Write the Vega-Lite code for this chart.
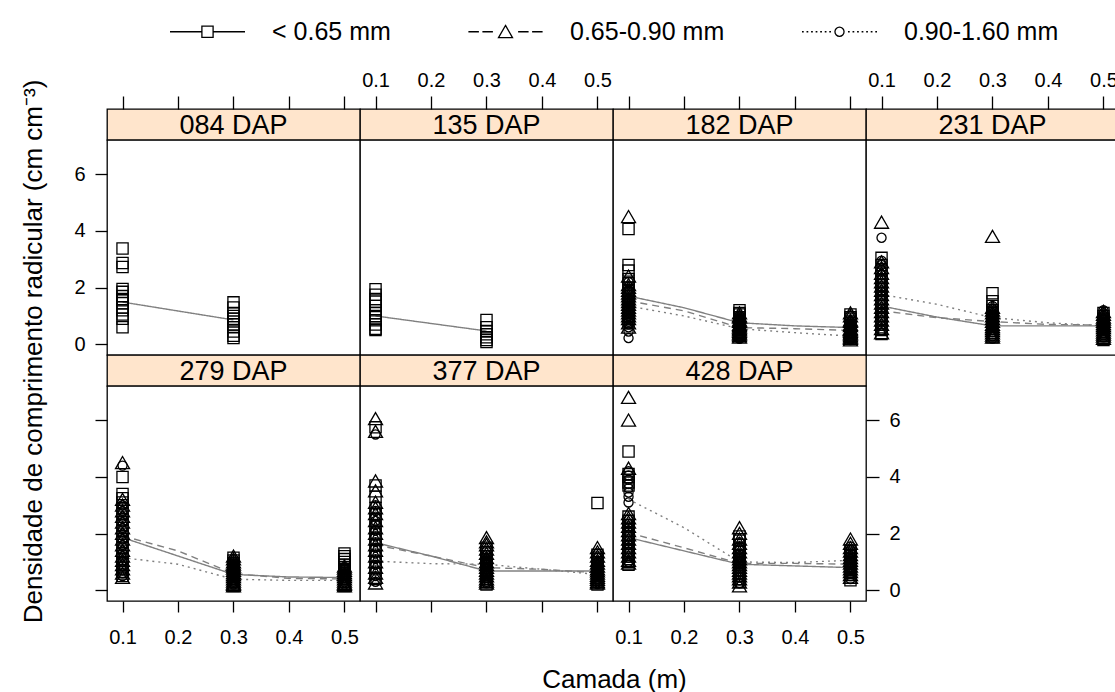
{
"$schema": "https://vega.github.io/schema/vega-lite/v6.json",
"padding": {"left": 19, "top": 18, "right": 0, "bottom": 0},
"columns": 4, "spacing": 0, "bounds": "flush", "align": "each",
"resolve": {"scale": {"shape": "independent"}, "legend": {"shape": "independent"}},
"datasets": {
"lns": [
{"p":"084 DAP","c":"< 0.65 mm","d":0.1,"v":1.49},{"p":"084 DAP","c":"< 0.65 mm","d":0.3,"v":0.86},
{"p":"135 DAP","c":"< 0.65 mm","d":0.1,"v":1.0},{"p":"135 DAP","c":"< 0.65 mm","d":0.3,"v":0.47},
{"p":"182 DAP","c":"< 0.65 mm","d":0.1,"v":1.70},{"p":"182 DAP","c":"< 0.65 mm","d":0.2,"v":1.29},{"p":"182 DAP","c":"< 0.65 mm","d":0.3,"v":0.76},{"p":"182 DAP","c":"< 0.65 mm","d":0.4,"v":0.65},{"p":"182 DAP","c":"< 0.65 mm","d":0.5,"v":0.59},
{"p":"182 DAP","c":"0.65-0.90 mm","d":0.1,"v":1.53},{"p":"182 DAP","c":"0.65-0.90 mm","d":0.2,"v":1.18},{"p":"182 DAP","c":"0.65-0.90 mm","d":0.3,"v":0.59},{"p":"182 DAP","c":"0.65-0.90 mm","d":0.4,"v":0.55},{"p":"182 DAP","c":"0.65-0.90 mm","d":0.5,"v":0.49},
{"p":"182 DAP","c":"0.90-1.60 mm","d":0.1,"v":1.35},{"p":"182 DAP","c":"0.90-1.60 mm","d":0.2,"v":1.0},{"p":"182 DAP","c":"0.90-1.60 mm","d":0.3,"v":0.55},{"p":"182 DAP","c":"0.90-1.60 mm","d":0.4,"v":0.41},{"p":"182 DAP","c":"0.90-1.60 mm","d":0.5,"v":0.29},
{"p":"231 DAP","c":"< 0.65 mm","d":0.1,"v":1.35},{"p":"231 DAP","c":"< 0.65 mm","d":0.2,"v":0.96},{"p":"231 DAP","c":"< 0.65 mm","d":0.3,"v":0.65},{"p":"231 DAP","c":"< 0.65 mm","d":0.4,"v":0.65},{"p":"231 DAP","c":"< 0.65 mm","d":0.5,"v":0.65},
{"p":"231 DAP","c":"0.65-0.90 mm","d":0.1,"v":1.18},{"p":"231 DAP","c":"0.65-0.90 mm","d":0.2,"v":0.94},{"p":"231 DAP","c":"0.65-0.90 mm","d":0.3,"v":0.80},{"p":"231 DAP","c":"0.65-0.90 mm","d":0.4,"v":0.70},{"p":"231 DAP","c":"0.65-0.90 mm","d":0.5,"v":0.68},
{"p":"231 DAP","c":"0.90-1.60 mm","d":0.1,"v":1.76},{"p":"231 DAP","c":"0.90-1.60 mm","d":0.2,"v":1.41},{"p":"231 DAP","c":"0.90-1.60 mm","d":0.3,"v":0.94},{"p":"231 DAP","c":"0.90-1.60 mm","d":0.4,"v":0.76},{"p":"231 DAP","c":"0.90-1.60 mm","d":0.5,"v":0.65},
{"p":"279 DAP","c":"< 0.65 mm","d":0.1,"v":1.86},{"p":"279 DAP","c":"< 0.65 mm","d":0.2,"v":1.21},{"p":"279 DAP","c":"< 0.65 mm","d":0.3,"v":0.56},{"p":"279 DAP","c":"< 0.65 mm","d":0.4,"v":0.47},{"p":"279 DAP","c":"< 0.65 mm","d":0.5,"v":0.45},
{"p":"279 DAP","c":"0.65-0.90 mm","d":0.1,"v":1.92},{"p":"279 DAP","c":"0.65-0.90 mm","d":0.2,"v":1.39},{"p":"279 DAP","c":"0.65-0.90 mm","d":0.3,"v":0.59},{"p":"279 DAP","c":"0.65-0.90 mm","d":0.4,"v":0.42},{"p":"279 DAP","c":"0.65-0.90 mm","d":0.5,"v":0.40},
{"p":"279 DAP","c":"0.90-1.60 mm","d":0.1,"v":1.15},{"p":"279 DAP","c":"0.90-1.60 mm","d":0.2,"v":0.92},{"p":"279 DAP","c":"0.90-1.60 mm","d":0.3,"v":0.39},{"p":"279 DAP","c":"0.90-1.60 mm","d":0.4,"v":0.35},{"p":"279 DAP","c":"0.90-1.60 mm","d":0.5,"v":0.35},
{"p":"377 DAP","c":"< 0.65 mm","d":0.1,"v":1.68},{"p":"377 DAP","c":"< 0.65 mm","d":0.2,"v":1.21},{"p":"377 DAP","c":"< 0.65 mm","d":0.3,"v":0.68},{"p":"377 DAP","c":"< 0.65 mm","d":0.4,"v":0.68},{"p":"377 DAP","c":"< 0.65 mm","d":0.5,"v":0.68},
{"p":"377 DAP","c":"0.65-0.90 mm","d":0.1,"v":1.60},{"p":"377 DAP","c":"0.65-0.90 mm","d":0.2,"v":1.21},{"p":"377 DAP","c":"0.65-0.90 mm","d":0.3,"v":0.80},{"p":"377 DAP","c":"0.65-0.90 mm","d":0.4,"v":0.74},{"p":"377 DAP","c":"0.65-0.90 mm","d":0.5,"v":0.62},
{"p":"377 DAP","c":"0.90-1.60 mm","d":0.1,"v":1.03},{"p":"377 DAP","c":"0.90-1.60 mm","d":0.2,"v":0.94},{"p":"377 DAP","c":"0.90-1.60 mm","d":0.3,"v":0.92},{"p":"377 DAP","c":"0.90-1.60 mm","d":0.4,"v":0.74},{"p":"377 DAP","c":"0.90-1.60 mm","d":0.5,"v":0.56},
{"p":"428 DAP","c":"< 0.65 mm","d":0.1,"v":1.86},{"p":"428 DAP","c":"< 0.65 mm","d":0.2,"v":1.39},{"p":"428 DAP","c":"< 0.65 mm","d":0.3,"v":0.92},{"p":"428 DAP","c":"< 0.65 mm","d":0.4,"v":0.86},{"p":"428 DAP","c":"< 0.65 mm","d":0.5,"v":0.80},
{"p":"428 DAP","c":"0.65-0.90 mm","d":0.1,"v":2.03},{"p":"428 DAP","c":"0.65-0.90 mm","d":0.2,"v":1.50},{"p":"428 DAP","c":"0.65-0.90 mm","d":0.3,"v":0.95},{"p":"428 DAP","c":"0.65-0.90 mm","d":0.4,"v":0.95},{"p":"428 DAP","c":"0.65-0.90 mm","d":0.5,"v":0.92},
{"p":"428 DAP","c":"0.90-1.60 mm","d":0.1,"v":3.21},{"p":"428 DAP","c":"0.90-1.60 mm","d":0.2,"v":2.21},{"p":"428 DAP","c":"0.90-1.60 mm","d":0.3,"v":1.0},{"p":"428 DAP","c":"0.90-1.60 mm","d":0.4,"v":0.98},{"p":"428 DAP","c":"0.90-1.60 mm","d":0.5,"v":1.06}
],
"pts": [
{"p":"084 DAP","c":"< 0.65 mm","d":0.1,"v":3.38},{"p":"084 DAP","c":"< 0.65 mm","d":0.1,"v":2.87},{"p":"084 DAP","c":"< 0.65 mm","d":0.1,"v":2.73},{"p":"084 DAP","c":"< 0.65 mm","d":0.1,"v":1.95},{"p":"084 DAP","c":"< 0.65 mm","d":0.1,"v":1.85},{"p":"084 DAP","c":"< 0.65 mm","d":0.1,"v":1.7},{"p":"084 DAP","c":"< 0.65 mm","d":0.1,"v":1.6},{"p":"084 DAP","c":"< 0.65 mm","d":0.1,"v":1.55},{"p":"084 DAP","c":"< 0.65 mm","d":0.1,"v":1.45},{"p":"084 DAP","c":"< 0.65 mm","d":0.1,"v":1.3},{"p":"084 DAP","c":"< 0.65 mm","d":0.1,"v":1.2},{"p":"084 DAP","c":"< 0.65 mm","d":0.1,"v":1.05},{"p":"084 DAP","c":"< 0.65 mm","d":0.1,"v":0.9},{"p":"084 DAP","c":"< 0.65 mm","d":0.1,"v":0.6},
{"p":"084 DAP","c":"< 0.65 mm","d":0.3,"v":1.48},{"p":"084 DAP","c":"< 0.65 mm","d":0.3,"v":1.3},{"p":"084 DAP","c":"< 0.65 mm","d":0.3,"v":1.1},{"p":"084 DAP","c":"< 0.65 mm","d":0.3,"v":1.0},{"p":"084 DAP","c":"< 0.65 mm","d":0.3,"v":0.9},{"p":"084 DAP","c":"< 0.65 mm","d":0.3,"v":0.8},{"p":"084 DAP","c":"< 0.65 mm","d":0.3,"v":0.7},{"p":"084 DAP","c":"< 0.65 mm","d":0.3,"v":0.6},{"p":"084 DAP","c":"< 0.65 mm","d":0.3,"v":0.45},{"p":"084 DAP","c":"< 0.65 mm","d":0.3,"v":0.3},{"p":"084 DAP","c":"< 0.65 mm","d":0.3,"v":0.22},
{"p":"135 DAP","c":"< 0.65 mm","d":0.1,"v":1.94},{"p":"135 DAP","c":"< 0.65 mm","d":0.1,"v":1.75},{"p":"135 DAP","c":"< 0.65 mm","d":0.1,"v":1.6},{"p":"135 DAP","c":"< 0.65 mm","d":0.1,"v":1.5},{"p":"135 DAP","c":"< 0.65 mm","d":0.1,"v":1.35},{"p":"135 DAP","c":"< 0.65 mm","d":0.1,"v":1.2},{"p":"135 DAP","c":"< 0.65 mm","d":0.1,"v":1.1},{"p":"135 DAP","c":"< 0.65 mm","d":0.1,"v":1.0},{"p":"135 DAP","c":"< 0.65 mm","d":0.1,"v":0.85},{"p":"135 DAP","c":"< 0.65 mm","d":0.1,"v":0.7},{"p":"135 DAP","c":"< 0.65 mm","d":0.1,"v":0.55},{"p":"135 DAP","c":"< 0.65 mm","d":0.1,"v":0.5},
{"p":"135 DAP","c":"< 0.65 mm","d":0.3,"v":0.86},{"p":"135 DAP","c":"< 0.65 mm","d":0.3,"v":0.6},{"p":"135 DAP","c":"< 0.65 mm","d":0.3,"v":0.45},{"p":"135 DAP","c":"< 0.65 mm","d":0.3,"v":0.35},{"p":"135 DAP","c":"< 0.65 mm","d":0.3,"v":0.25},{"p":"135 DAP","c":"< 0.65 mm","d":0.3,"v":0.15},{"p":"135 DAP","c":"< 0.65 mm","d":0.3,"v":0.08},
{"p":"182 DAP","c":"< 0.65 mm","d":0.1,"v":4.07},{"p":"182 DAP","c":"< 0.65 mm","d":0.1,"v":2.8},{"p":"182 DAP","c":"< 0.65 mm","d":0.1,"v":2.6},{"p":"182 DAP","c":"< 0.65 mm","d":0.1,"v":2.3},{"p":"182 DAP","c":"< 0.65 mm","d":0.1,"v":2.0},{"p":"182 DAP","c":"< 0.65 mm","d":0.1,"v":1.8},{"p":"182 DAP","c":"< 0.65 mm","d":0.1,"v":1.6},{"p":"182 DAP","c":"< 0.65 mm","d":0.1,"v":1.4},{"p":"182 DAP","c":"< 0.65 mm","d":0.1,"v":1.2},{"p":"182 DAP","c":"< 0.65 mm","d":0.1,"v":1.0},{"p":"182 DAP","c":"< 0.65 mm","d":0.1,"v":0.8},
{"p":"182 DAP","c":"< 0.65 mm","d":0.1,"v":2.15},{"p":"182 DAP","c":"< 0.65 mm","d":0.1,"v":1.9},{"p":"182 DAP","c":"< 0.65 mm","d":0.1,"v":1.7},{"p":"182 DAP","c":"< 0.65 mm","d":0.1,"v":1.5},{"p":"182 DAP","c":"< 0.65 mm","d":0.1,"v":1.3},{"p":"182 DAP","c":"< 0.65 mm","d":0.1,"v":1.1},{"p":"182 DAP","c":"< 0.65 mm","d":0.1,"v":0.9},
{"p":"182 DAP","c":"0.65-0.90 mm","d":0.1,"v":4.5},{"p":"182 DAP","c":"0.65-0.90 mm","d":0.1,"v":2.4},{"p":"182 DAP","c":"0.65-0.90 mm","d":0.1,"v":2.1},{"p":"182 DAP","c":"0.65-0.90 mm","d":0.1,"v":1.9},{"p":"182 DAP","c":"0.65-0.90 mm","d":0.1,"v":1.7},{"p":"182 DAP","c":"0.65-0.90 mm","d":0.1,"v":1.5},{"p":"182 DAP","c":"0.65-0.90 mm","d":0.1,"v":1.3},{"p":"182 DAP","c":"0.65-0.90 mm","d":0.1,"v":1.1},{"p":"182 DAP","c":"0.65-0.90 mm","d":0.1,"v":0.9},{"p":"182 DAP","c":"0.65-0.90 mm","d":0.1,"v":0.6},
{"p":"182 DAP","c":"0.65-0.90 mm","d":0.1,"v":2.0},{"p":"182 DAP","c":"0.65-0.90 mm","d":0.1,"v":1.8},{"p":"182 DAP","c":"0.65-0.90 mm","d":0.1,"v":1.6},{"p":"182 DAP","c":"0.65-0.90 mm","d":0.1,"v":1.4},{"p":"182 DAP","c":"0.65-0.90 mm","d":0.1,"v":1.2},{"p":"182 DAP","c":"0.65-0.90 mm","d":0.1,"v":1.0},{"p":"182 DAP","c":"0.65-0.90 mm","d":0.1,"v":0.75},
{"p":"182 DAP","c":"0.90-1.60 mm","d":0.1,"v":2.2},{"p":"182 DAP","c":"0.90-1.60 mm","d":0.1,"v":1.9},{"p":"182 DAP","c":"0.90-1.60 mm","d":0.1,"v":1.6},{"p":"182 DAP","c":"0.90-1.60 mm","d":0.1,"v":1.4},{"p":"182 DAP","c":"0.90-1.60 mm","d":0.1,"v":1.2},{"p":"182 DAP","c":"0.90-1.60 mm","d":0.1,"v":1.0},{"p":"182 DAP","c":"0.90-1.60 mm","d":0.1,"v":0.8},{"p":"182 DAP","c":"0.90-1.60 mm","d":0.1,"v":0.6},{"p":"182 DAP","c":"0.90-1.60 mm","d":0.1,"v":0.22},
{"p":"182 DAP","c":"0.90-1.60 mm","d":0.1,"v":1.75},{"p":"182 DAP","c":"0.90-1.60 mm","d":0.1,"v":1.5},{"p":"182 DAP","c":"0.90-1.60 mm","d":0.1,"v":1.3},{"p":"182 DAP","c":"0.90-1.60 mm","d":0.1,"v":1.1},{"p":"182 DAP","c":"0.90-1.60 mm","d":0.1,"v":0.9},{"p":"182 DAP","c":"0.90-1.60 mm","d":0.1,"v":0.7},{"p":"182 DAP","c":"0.90-1.60 mm","d":0.1,"v":0.45},
{"p":"182 DAP","c":"< 0.65 mm","d":0.3,"v":1.2},{"p":"182 DAP","c":"< 0.65 mm","d":0.3,"v":1.05},{"p":"182 DAP","c":"< 0.65 mm","d":0.3,"v":0.9},{"p":"182 DAP","c":"< 0.65 mm","d":0.3,"v":0.8},{"p":"182 DAP","c":"< 0.65 mm","d":0.3,"v":0.7},{"p":"182 DAP","c":"< 0.65 mm","d":0.3,"v":0.6},{"p":"182 DAP","c":"< 0.65 mm","d":0.3,"v":0.5},{"p":"182 DAP","c":"< 0.65 mm","d":0.3,"v":0.4},{"p":"182 DAP","c":"< 0.65 mm","d":0.3,"v":0.3},
{"p":"182 DAP","c":"< 0.65 mm","d":0.3,"v":1.1},{"p":"182 DAP","c":"< 0.65 mm","d":0.3,"v":0.95},{"p":"182 DAP","c":"< 0.65 mm","d":0.3,"v":0.75},{"p":"182 DAP","c":"< 0.65 mm","d":0.3,"v":0.65},{"p":"182 DAP","c":"< 0.65 mm","d":0.3,"v":0.55},{"p":"182 DAP","c":"< 0.65 mm","d":0.3,"v":0.45},{"p":"182 DAP","c":"< 0.65 mm","d":0.3,"v":0.35},
{"p":"182 DAP","c":"0.65-0.90 mm","d":0.3,"v":1.1},{"p":"182 DAP","c":"0.65-0.90 mm","d":0.3,"v":0.95},{"p":"182 DAP","c":"0.65-0.90 mm","d":0.3,"v":0.8},{"p":"182 DAP","c":"0.65-0.90 mm","d":0.3,"v":0.65},{"p":"182 DAP","c":"0.65-0.90 mm","d":0.3,"v":0.55},{"p":"182 DAP","c":"0.65-0.90 mm","d":0.3,"v":0.45},{"p":"182 DAP","c":"0.65-0.90 mm","d":0.3,"v":0.35},{"p":"182 DAP","c":"0.65-0.90 mm","d":0.3,"v":0.25},
{"p":"182 DAP","c":"0.65-0.90 mm","d":0.3,"v":1.0},{"p":"182 DAP","c":"0.65-0.90 mm","d":0.3,"v":0.85},{"p":"182 DAP","c":"0.65-0.90 mm","d":0.3,"v":0.7},{"p":"182 DAP","c":"0.65-0.90 mm","d":0.3,"v":0.6},{"p":"182 DAP","c":"0.65-0.90 mm","d":0.3,"v":0.5},{"p":"182 DAP","c":"0.65-0.90 mm","d":0.3,"v":0.4},{"p":"182 DAP","c":"0.65-0.90 mm","d":0.3,"v":0.3},
{"p":"182 DAP","c":"0.90-1.60 mm","d":0.3,"v":1.0},{"p":"182 DAP","c":"0.90-1.60 mm","d":0.3,"v":0.85},{"p":"182 DAP","c":"0.90-1.60 mm","d":0.3,"v":0.7},{"p":"182 DAP","c":"0.90-1.60 mm","d":0.3,"v":0.55},{"p":"182 DAP","c":"0.90-1.60 mm","d":0.3,"v":0.45},{"p":"182 DAP","c":"0.90-1.60 mm","d":0.3,"v":0.35},{"p":"182 DAP","c":"0.90-1.60 mm","d":0.3,"v":0.25},{"p":"182 DAP","c":"0.90-1.60 mm","d":0.3,"v":0.19},
{"p":"182 DAP","c":"0.90-1.60 mm","d":0.3,"v":0.9},{"p":"182 DAP","c":"0.90-1.60 mm","d":0.3,"v":0.75},{"p":"182 DAP","c":"0.90-1.60 mm","d":0.3,"v":0.6},{"p":"182 DAP","c":"0.90-1.60 mm","d":0.3,"v":0.5},{"p":"182 DAP","c":"0.90-1.60 mm","d":0.3,"v":0.4},{"p":"182 DAP","c":"0.90-1.60 mm","d":0.3,"v":0.3},{"p":"182 DAP","c":"0.90-1.60 mm","d":0.3,"v":0.22},
{"p":"182 DAP","c":"< 0.65 mm","d":0.5,"v":1.05},{"p":"182 DAP","c":"< 0.65 mm","d":0.5,"v":0.9},{"p":"182 DAP","c":"< 0.65 mm","d":0.5,"v":0.75},{"p":"182 DAP","c":"< 0.65 mm","d":0.5,"v":0.6},{"p":"182 DAP","c":"< 0.65 mm","d":0.5,"v":0.5},{"p":"182 DAP","c":"< 0.65 mm","d":0.5,"v":0.4},{"p":"182 DAP","c":"< 0.65 mm","d":0.5,"v":0.3},{"p":"182 DAP","c":"< 0.65 mm","d":0.5,"v":0.2},
{"p":"182 DAP","c":"< 0.65 mm","d":0.5,"v":0.95},{"p":"182 DAP","c":"< 0.65 mm","d":0.5,"v":0.8},{"p":"182 DAP","c":"< 0.65 mm","d":0.5,"v":0.65},{"p":"182 DAP","c":"< 0.65 mm","d":0.5,"v":0.55},{"p":"182 DAP","c":"< 0.65 mm","d":0.5,"v":0.45},{"p":"182 DAP","c":"< 0.65 mm","d":0.5,"v":0.35},{"p":"182 DAP","c":"< 0.65 mm","d":0.5,"v":0.25},
{"p":"182 DAP","c":"0.65-0.90 mm","d":0.5,"v":1.1},{"p":"182 DAP","c":"0.65-0.90 mm","d":0.5,"v":0.85},{"p":"182 DAP","c":"0.65-0.90 mm","d":0.5,"v":0.7},{"p":"182 DAP","c":"0.65-0.90 mm","d":0.5,"v":0.55},{"p":"182 DAP","c":"0.65-0.90 mm","d":0.5,"v":0.45},{"p":"182 DAP","c":"0.65-0.90 mm","d":0.5,"v":0.35},{"p":"182 DAP","c":"0.65-0.90 mm","d":0.5,"v":0.25},{"p":"182 DAP","c":"0.65-0.90 mm","d":0.5,"v":0.15},
{"p":"182 DAP","c":"0.65-0.90 mm","d":0.5,"v":1.0},{"p":"182 DAP","c":"0.65-0.90 mm","d":0.5,"v":0.8},{"p":"182 DAP","c":"0.65-0.90 mm","d":0.5,"v":0.65},{"p":"182 DAP","c":"0.65-0.90 mm","d":0.5,"v":0.5},{"p":"182 DAP","c":"0.65-0.90 mm","d":0.5,"v":0.4},{"p":"182 DAP","c":"0.65-0.90 mm","d":0.5,"v":0.3},{"p":"182 DAP","c":"0.65-0.90 mm","d":0.5,"v":0.2},
{"p":"182 DAP","c":"0.90-1.60 mm","d":0.5,"v":0.8},{"p":"182 DAP","c":"0.90-1.60 mm","d":0.5,"v":0.6},{"p":"182 DAP","c":"0.90-1.60 mm","d":0.5,"v":0.45},{"p":"182 DAP","c":"0.90-1.60 mm","d":0.5,"v":0.35},{"p":"182 DAP","c":"0.90-1.60 mm","d":0.5,"v":0.25},{"p":"182 DAP","c":"0.90-1.60 mm","d":0.5,"v":0.18},{"p":"182 DAP","c":"0.90-1.60 mm","d":0.5,"v":0.15},
{"p":"182 DAP","c":"0.90-1.60 mm","d":0.5,"v":0.7},{"p":"182 DAP","c":"0.90-1.60 mm","d":0.5,"v":0.5},{"p":"182 DAP","c":"0.90-1.60 mm","d":0.5,"v":0.4},{"p":"182 DAP","c":"0.90-1.60 mm","d":0.5,"v":0.3},{"p":"182 DAP","c":"0.90-1.60 mm","d":0.5,"v":0.2},
{"p":"231 DAP","c":"0.65-0.90 mm","d":0.1,"v":4.3},{"p":"231 DAP","c":"0.65-0.90 mm","d":0.1,"v":2.9},{"p":"231 DAP","c":"0.65-0.90 mm","d":0.1,"v":2.5},{"p":"231 DAP","c":"0.65-0.90 mm","d":0.1,"v":2.2},{"p":"231 DAP","c":"0.65-0.90 mm","d":0.1,"v":1.9},{"p":"231 DAP","c":"0.65-0.90 mm","d":0.1,"v":1.6},{"p":"231 DAP","c":"0.65-0.90 mm","d":0.1,"v":1.3},{"p":"231 DAP","c":"0.65-0.90 mm","d":0.1,"v":1.0},{"p":"231 DAP","c":"0.65-0.90 mm","d":0.1,"v":0.7},{"p":"231 DAP","c":"0.65-0.90 mm","d":0.1,"v":0.4},
{"p":"231 DAP","c":"0.65-0.90 mm","d":0.1,"v":2.7},{"p":"231 DAP","c":"0.65-0.90 mm","d":0.1,"v":2.35},{"p":"231 DAP","c":"0.65-0.90 mm","d":0.1,"v":2.05},{"p":"231 DAP","c":"0.65-0.90 mm","d":0.1,"v":1.75},{"p":"231 DAP","c":"0.65-0.90 mm","d":0.1,"v":1.45},{"p":"231 DAP","c":"0.65-0.90 mm","d":0.1,"v":1.15},{"p":"231 DAP","c":"0.65-0.90 mm","d":0.1,"v":0.85},{"p":"231 DAP","c":"0.65-0.90 mm","d":0.1,"v":0.55},
{"p":"231 DAP","c":"0.90-1.60 mm","d":0.1,"v":3.76},{"p":"231 DAP","c":"0.90-1.60 mm","d":0.1,"v":2.95},{"p":"231 DAP","c":"0.90-1.60 mm","d":0.1,"v":2.6},{"p":"231 DAP","c":"0.90-1.60 mm","d":0.1,"v":2.3},{"p":"231 DAP","c":"0.90-1.60 mm","d":0.1,"v":2.0},{"p":"231 DAP","c":"0.90-1.60 mm","d":0.1,"v":1.7},{"p":"231 DAP","c":"0.90-1.60 mm","d":0.1,"v":1.4},{"p":"231 DAP","c":"0.90-1.60 mm","d":0.1,"v":1.1},{"p":"231 DAP","c":"0.90-1.60 mm","d":0.1,"v":0.8},{"p":"231 DAP","c":"0.90-1.60 mm","d":0.1,"v":0.5},
{"p":"231 DAP","c":"0.90-1.60 mm","d":0.1,"v":2.8},{"p":"231 DAP","c":"0.90-1.60 mm","d":0.1,"v":2.45},{"p":"231 DAP","c":"0.90-1.60 mm","d":0.1,"v":2.15},{"p":"231 DAP","c":"0.90-1.60 mm","d":0.1,"v":1.85},{"p":"231 DAP","c":"0.90-1.60 mm","d":0.1,"v":1.55},{"p":"231 DAP","c":"0.90-1.60 mm","d":0.1,"v":1.25},{"p":"231 DAP","c":"0.90-1.60 mm","d":0.1,"v":0.95},{"p":"231 DAP","c":"0.90-1.60 mm","d":0.1,"v":0.65},
{"p":"231 DAP","c":"< 0.65 mm","d":0.1,"v":3.05},{"p":"231 DAP","c":"< 0.65 mm","d":0.1,"v":2.8},{"p":"231 DAP","c":"< 0.65 mm","d":0.1,"v":2.4},{"p":"231 DAP","c":"< 0.65 mm","d":0.1,"v":2.1},{"p":"231 DAP","c":"< 0.65 mm","d":0.1,"v":1.8},{"p":"231 DAP","c":"< 0.65 mm","d":0.1,"v":1.5},{"p":"231 DAP","c":"< 0.65 mm","d":0.1,"v":1.2},{"p":"231 DAP","c":"< 0.65 mm","d":0.1,"v":0.9},{"p":"231 DAP","c":"< 0.65 mm","d":0.1,"v":0.6},{"p":"231 DAP","c":"< 0.65 mm","d":0.1,"v":0.36},
{"p":"231 DAP","c":"< 0.65 mm","d":0.1,"v":2.6},{"p":"231 DAP","c":"< 0.65 mm","d":0.1,"v":2.25},{"p":"231 DAP","c":"< 0.65 mm","d":0.1,"v":1.95},{"p":"231 DAP","c":"< 0.65 mm","d":0.1,"v":1.65},{"p":"231 DAP","c":"< 0.65 mm","d":0.1,"v":1.35},{"p":"231 DAP","c":"< 0.65 mm","d":0.1,"v":1.05},{"p":"231 DAP","c":"< 0.65 mm","d":0.1,"v":0.75},{"p":"231 DAP","c":"< 0.65 mm","d":0.1,"v":0.5},
{"p":"231 DAP","c":"0.65-0.90 mm","d":0.3,"v":3.8},{"p":"231 DAP","c":"0.65-0.90 mm","d":0.3,"v":1.3},{"p":"231 DAP","c":"0.65-0.90 mm","d":0.3,"v":1.1},{"p":"231 DAP","c":"0.65-0.90 mm","d":0.3,"v":0.9},{"p":"231 DAP","c":"0.65-0.90 mm","d":0.3,"v":0.7},{"p":"231 DAP","c":"0.65-0.90 mm","d":0.3,"v":0.55},{"p":"231 DAP","c":"0.65-0.90 mm","d":0.3,"v":0.4},{"p":"231 DAP","c":"0.65-0.90 mm","d":0.3,"v":0.25},
{"p":"231 DAP","c":"0.65-0.90 mm","d":0.3,"v":1.2},{"p":"231 DAP","c":"0.65-0.90 mm","d":0.3,"v":1.0},{"p":"231 DAP","c":"0.65-0.90 mm","d":0.3,"v":0.8},{"p":"231 DAP","c":"0.65-0.90 mm","d":0.3,"v":0.62},{"p":"231 DAP","c":"0.65-0.90 mm","d":0.3,"v":0.48},{"p":"231 DAP","c":"0.65-0.90 mm","d":0.3,"v":0.32},
{"p":"231 DAP","c":"< 0.65 mm","d":0.3,"v":1.8},{"p":"231 DAP","c":"< 0.65 mm","d":0.3,"v":1.52},{"p":"231 DAP","c":"< 0.65 mm","d":0.3,"v":1.2},{"p":"231 DAP","c":"< 0.65 mm","d":0.3,"v":1.0},{"p":"231 DAP","c":"< 0.65 mm","d":0.3,"v":0.85},{"p":"231 DAP","c":"< 0.65 mm","d":0.3,"v":0.7},{"p":"231 DAP","c":"< 0.65 mm","d":0.3,"v":0.55},{"p":"231 DAP","c":"< 0.65 mm","d":0.3,"v":0.4},{"p":"231 DAP","c":"< 0.65 mm","d":0.3,"v":0.25},
{"p":"231 DAP","c":"< 0.65 mm","d":0.3,"v":1.35},{"p":"231 DAP","c":"< 0.65 mm","d":0.3,"v":1.1},{"p":"231 DAP","c":"< 0.65 mm","d":0.3,"v":0.92},{"p":"231 DAP","c":"< 0.65 mm","d":0.3,"v":0.78},{"p":"231 DAP","c":"< 0.65 mm","d":0.3,"v":0.62},{"p":"231 DAP","c":"< 0.65 mm","d":0.3,"v":0.48},{"p":"231 DAP","c":"< 0.65 mm","d":0.3,"v":0.32},
{"p":"231 DAP","c":"0.90-1.60 mm","d":0.3,"v":1.35},{"p":"231 DAP","c":"0.90-1.60 mm","d":0.3,"v":1.1},{"p":"231 DAP","c":"0.90-1.60 mm","d":0.3,"v":0.95},{"p":"231 DAP","c":"0.90-1.60 mm","d":0.3,"v":0.8},{"p":"231 DAP","c":"0.90-1.60 mm","d":0.3,"v":0.65},{"p":"231 DAP","c":"0.90-1.60 mm","d":0.3,"v":0.5},{"p":"231 DAP","c":"0.90-1.60 mm","d":0.3,"v":0.35},{"p":"231 DAP","c":"0.90-1.60 mm","d":0.3,"v":0.2},
{"p":"231 DAP","c":"0.90-1.60 mm","d":0.3,"v":1.25},{"p":"231 DAP","c":"0.90-1.60 mm","d":0.3,"v":1.0},{"p":"231 DAP","c":"0.90-1.60 mm","d":0.3,"v":0.88},{"p":"231 DAP","c":"0.90-1.60 mm","d":0.3,"v":0.72},{"p":"231 DAP","c":"0.90-1.60 mm","d":0.3,"v":0.58},{"p":"231 DAP","c":"0.90-1.60 mm","d":0.3,"v":0.42},{"p":"231 DAP","c":"0.90-1.60 mm","d":0.3,"v":0.28},
{"p":"231 DAP","c":"0.65-0.90 mm","d":0.5,"v":1.15},{"p":"231 DAP","c":"0.65-0.90 mm","d":0.5,"v":0.95},{"p":"231 DAP","c":"0.65-0.90 mm","d":0.5,"v":0.8},{"p":"231 DAP","c":"0.65-0.90 mm","d":0.5,"v":0.65},{"p":"231 DAP","c":"0.65-0.90 mm","d":0.5,"v":0.5},{"p":"231 DAP","c":"0.65-0.90 mm","d":0.5,"v":0.35},{"p":"231 DAP","c":"0.65-0.90 mm","d":0.5,"v":0.2},
{"p":"231 DAP","c":"0.65-0.90 mm","d":0.5,"v":1.05},{"p":"231 DAP","c":"0.65-0.90 mm","d":0.5,"v":0.88},{"p":"231 DAP","c":"0.65-0.90 mm","d":0.5,"v":0.72},{"p":"231 DAP","c":"0.65-0.90 mm","d":0.5,"v":0.58},{"p":"231 DAP","c":"0.65-0.90 mm","d":0.5,"v":0.42},{"p":"231 DAP","c":"0.65-0.90 mm","d":0.5,"v":0.28},
{"p":"231 DAP","c":"0.90-1.60 mm","d":0.5,"v":1.2},{"p":"231 DAP","c":"0.90-1.60 mm","d":0.5,"v":1.0},{"p":"231 DAP","c":"0.90-1.60 mm","d":0.5,"v":0.85},{"p":"231 DAP","c":"0.90-1.60 mm","d":0.5,"v":0.7},{"p":"231 DAP","c":"0.90-1.60 mm","d":0.5,"v":0.55},{"p":"231 DAP","c":"0.90-1.60 mm","d":0.5,"v":0.4},{"p":"231 DAP","c":"0.90-1.60 mm","d":0.5,"v":0.25},
{"p":"231 DAP","c":"0.90-1.60 mm","d":0.5,"v":1.1},{"p":"231 DAP","c":"0.90-1.60 mm","d":0.5,"v":0.92},{"p":"231 DAP","c":"0.90-1.60 mm","d":0.5,"v":0.78},{"p":"231 DAP","c":"0.90-1.60 mm","d":0.5,"v":0.62},{"p":"231 DAP","c":"0.90-1.60 mm","d":0.5,"v":0.48},{"p":"231 DAP","c":"0.90-1.60 mm","d":0.5,"v":0.32},
{"p":"231 DAP","c":"< 0.65 mm","d":0.5,"v":1.1},{"p":"231 DAP","c":"< 0.65 mm","d":0.5,"v":0.9},{"p":"231 DAP","c":"< 0.65 mm","d":0.5,"v":0.75},{"p":"231 DAP","c":"< 0.65 mm","d":0.5,"v":0.6},{"p":"231 DAP","c":"< 0.65 mm","d":0.5,"v":0.45},{"p":"231 DAP","c":"< 0.65 mm","d":0.5,"v":0.3},{"p":"231 DAP","c":"< 0.65 mm","d":0.5,"v":0.15},
{"p":"231 DAP","c":"< 0.65 mm","d":0.5,"v":1.0},{"p":"231 DAP","c":"< 0.65 mm","d":0.5,"v":0.82},{"p":"231 DAP","c":"< 0.65 mm","d":0.5,"v":0.68},{"p":"231 DAP","c":"< 0.65 mm","d":0.5,"v":0.52},{"p":"231 DAP","c":"< 0.65 mm","d":0.5,"v":0.38},{"p":"231 DAP","c":"< 0.65 mm","d":0.5,"v":0.22},
{"p":"279 DAP","c":"0.65-0.90 mm","d":0.1,"v":4.5},{"p":"279 DAP","c":"0.65-0.90 mm","d":0.1,"v":3.2},{"p":"279 DAP","c":"0.65-0.90 mm","d":0.1,"v":2.8},{"p":"279 DAP","c":"0.65-0.90 mm","d":0.1,"v":2.4},{"p":"279 DAP","c":"0.65-0.90 mm","d":0.1,"v":2.0},{"p":"279 DAP","c":"0.65-0.90 mm","d":0.1,"v":1.6},{"p":"279 DAP","c":"0.65-0.90 mm","d":0.1,"v":1.2},{"p":"279 DAP","c":"0.65-0.90 mm","d":0.1,"v":0.9},{"p":"279 DAP","c":"0.65-0.90 mm","d":0.1,"v":0.6},{"p":"279 DAP","c":"0.65-0.90 mm","d":0.1,"v":0.45},
{"p":"279 DAP","c":"0.65-0.90 mm","d":0.1,"v":3.0},{"p":"279 DAP","c":"0.65-0.90 mm","d":0.1,"v":2.6},{"p":"279 DAP","c":"0.65-0.90 mm","d":0.1,"v":2.2},{"p":"279 DAP","c":"0.65-0.90 mm","d":0.1,"v":1.8},{"p":"279 DAP","c":"0.65-0.90 mm","d":0.1,"v":1.4},{"p":"279 DAP","c":"0.65-0.90 mm","d":0.1,"v":1.05},{"p":"279 DAP","c":"0.65-0.90 mm","d":0.1,"v":0.75},
{"p":"279 DAP","c":"0.90-1.60 mm","d":0.1,"v":4.4},{"p":"279 DAP","c":"0.90-1.60 mm","d":0.1,"v":3.0},{"p":"279 DAP","c":"0.90-1.60 mm","d":0.1,"v":2.6},{"p":"279 DAP","c":"0.90-1.60 mm","d":0.1,"v":2.2},{"p":"279 DAP","c":"0.90-1.60 mm","d":0.1,"v":1.8},{"p":"279 DAP","c":"0.90-1.60 mm","d":0.1,"v":1.4},{"p":"279 DAP","c":"0.90-1.60 mm","d":0.1,"v":1.0},{"p":"279 DAP","c":"0.90-1.60 mm","d":0.1,"v":0.7},{"p":"279 DAP","c":"0.90-1.60 mm","d":0.1,"v":0.5},
{"p":"279 DAP","c":"0.90-1.60 mm","d":0.1,"v":2.8},{"p":"279 DAP","c":"0.90-1.60 mm","d":0.1,"v":2.4},{"p":"279 DAP","c":"0.90-1.60 mm","d":0.1,"v":2.0},{"p":"279 DAP","c":"0.90-1.60 mm","d":0.1,"v":1.6},{"p":"279 DAP","c":"0.90-1.60 mm","d":0.1,"v":1.2},{"p":"279 DAP","c":"0.90-1.60 mm","d":0.1,"v":0.85},{"p":"279 DAP","c":"0.90-1.60 mm","d":0.1,"v":0.6},
{"p":"279 DAP","c":"< 0.65 mm","d":0.1,"v":4.0},{"p":"279 DAP","c":"< 0.65 mm","d":0.1,"v":3.4},{"p":"279 DAP","c":"< 0.65 mm","d":0.1,"v":3.1},{"p":"279 DAP","c":"< 0.65 mm","d":0.1,"v":2.7},{"p":"279 DAP","c":"< 0.65 mm","d":0.1,"v":2.3},{"p":"279 DAP","c":"< 0.65 mm","d":0.1,"v":1.9},{"p":"279 DAP","c":"< 0.65 mm","d":0.1,"v":1.5},{"p":"279 DAP","c":"< 0.65 mm","d":0.1,"v":1.1},{"p":"279 DAP","c":"< 0.65 mm","d":0.1,"v":0.8},{"p":"279 DAP","c":"< 0.65 mm","d":0.1,"v":0.5},
{"p":"279 DAP","c":"< 0.65 mm","d":0.1,"v":3.25},{"p":"279 DAP","c":"< 0.65 mm","d":0.1,"v":2.9},{"p":"279 DAP","c":"< 0.65 mm","d":0.1,"v":2.5},{"p":"279 DAP","c":"< 0.65 mm","d":0.1,"v":2.1},{"p":"279 DAP","c":"< 0.65 mm","d":0.1,"v":1.7},{"p":"279 DAP","c":"< 0.65 mm","d":0.1,"v":1.3},{"p":"279 DAP","c":"< 0.65 mm","d":0.1,"v":0.95},{"p":"279 DAP","c":"< 0.65 mm","d":0.1,"v":0.65},
{"p":"279 DAP","c":"0.65-0.90 mm","d":0.3,"v":1.2},{"p":"279 DAP","c":"0.65-0.90 mm","d":0.3,"v":1.0},{"p":"279 DAP","c":"0.65-0.90 mm","d":0.3,"v":0.85},{"p":"279 DAP","c":"0.65-0.90 mm","d":0.3,"v":0.7},{"p":"279 DAP","c":"0.65-0.90 mm","d":0.3,"v":0.55},{"p":"279 DAP","c":"0.65-0.90 mm","d":0.3,"v":0.4},{"p":"279 DAP","c":"0.65-0.90 mm","d":0.3,"v":0.25},{"p":"279 DAP","c":"0.65-0.90 mm","d":0.3,"v":0.15},
{"p":"279 DAP","c":"0.65-0.90 mm","d":0.3,"v":1.1},{"p":"279 DAP","c":"0.65-0.90 mm","d":0.3,"v":0.92},{"p":"279 DAP","c":"0.65-0.90 mm","d":0.3,"v":0.78},{"p":"279 DAP","c":"0.65-0.90 mm","d":0.3,"v":0.62},{"p":"279 DAP","c":"0.65-0.90 mm","d":0.3,"v":0.48},{"p":"279 DAP","c":"0.65-0.90 mm","d":0.3,"v":0.32},{"p":"279 DAP","c":"0.65-0.90 mm","d":0.3,"v":0.2},
{"p":"279 DAP","c":"0.90-1.60 mm","d":0.3,"v":1.1},{"p":"279 DAP","c":"0.90-1.60 mm","d":0.3,"v":0.9},{"p":"279 DAP","c":"0.90-1.60 mm","d":0.3,"v":0.75},{"p":"279 DAP","c":"0.90-1.60 mm","d":0.3,"v":0.6},{"p":"279 DAP","c":"0.90-1.60 mm","d":0.3,"v":0.45},{"p":"279 DAP","c":"0.90-1.60 mm","d":0.3,"v":0.3},{"p":"279 DAP","c":"0.90-1.60 mm","d":0.3,"v":0.2},
{"p":"279 DAP","c":"0.90-1.60 mm","d":0.3,"v":1.0},{"p":"279 DAP","c":"0.90-1.60 mm","d":0.3,"v":0.82},{"p":"279 DAP","c":"0.90-1.60 mm","d":0.3,"v":0.68},{"p":"279 DAP","c":"0.90-1.60 mm","d":0.3,"v":0.52},{"p":"279 DAP","c":"0.90-1.60 mm","d":0.3,"v":0.38},{"p":"279 DAP","c":"0.90-1.60 mm","d":0.3,"v":0.25},
{"p":"279 DAP","c":"< 0.65 mm","d":0.3,"v":1.15},{"p":"279 DAP","c":"< 0.65 mm","d":0.3,"v":0.95},{"p":"279 DAP","c":"< 0.65 mm","d":0.3,"v":0.8},{"p":"279 DAP","c":"< 0.65 mm","d":0.3,"v":0.65},{"p":"279 DAP","c":"< 0.65 mm","d":0.3,"v":0.5},{"p":"279 DAP","c":"< 0.65 mm","d":0.3,"v":0.35},{"p":"279 DAP","c":"< 0.65 mm","d":0.3,"v":0.2},{"p":"279 DAP","c":"< 0.65 mm","d":0.3,"v":0.15},
{"p":"279 DAP","c":"< 0.65 mm","d":0.3,"v":1.05},{"p":"279 DAP","c":"< 0.65 mm","d":0.3,"v":0.88},{"p":"279 DAP","c":"< 0.65 mm","d":0.3,"v":0.72},{"p":"279 DAP","c":"< 0.65 mm","d":0.3,"v":0.58},{"p":"279 DAP","c":"< 0.65 mm","d":0.3,"v":0.42},{"p":"279 DAP","c":"< 0.65 mm","d":0.3,"v":0.28},
{"p":"279 DAP","c":"< 0.65 mm","d":0.5,"v":1.3},{"p":"279 DAP","c":"< 0.65 mm","d":0.5,"v":1.1},{"p":"279 DAP","c":"< 0.65 mm","d":0.5,"v":0.9},{"p":"279 DAP","c":"< 0.65 mm","d":0.5,"v":0.75},{"p":"279 DAP","c":"< 0.65 mm","d":0.5,"v":0.6},{"p":"279 DAP","c":"< 0.65 mm","d":0.5,"v":0.45},{"p":"279 DAP","c":"< 0.65 mm","d":0.5,"v":0.3},{"p":"279 DAP","c":"< 0.65 mm","d":0.5,"v":0.15},
{"p":"279 DAP","c":"< 0.65 mm","d":0.5,"v":1.2},{"p":"279 DAP","c":"< 0.65 mm","d":0.5,"v":1.0},{"p":"279 DAP","c":"< 0.65 mm","d":0.5,"v":0.82},{"p":"279 DAP","c":"< 0.65 mm","d":0.5,"v":0.68},{"p":"279 DAP","c":"< 0.65 mm","d":0.5,"v":0.52},{"p":"279 DAP","c":"< 0.65 mm","d":0.5,"v":0.38},{"p":"279 DAP","c":"< 0.65 mm","d":0.5,"v":0.22},
{"p":"279 DAP","c":"0.65-0.90 mm","d":0.5,"v":0.85},{"p":"279 DAP","c":"0.65-0.90 mm","d":0.5,"v":0.7},{"p":"279 DAP","c":"0.65-0.90 mm","d":0.5,"v":0.55},{"p":"279 DAP","c":"0.65-0.90 mm","d":0.5,"v":0.4},{"p":"279 DAP","c":"0.65-0.90 mm","d":0.5,"v":0.25},{"p":"279 DAP","c":"0.65-0.90 mm","d":0.5,"v":0.15},
{"p":"279 DAP","c":"0.65-0.90 mm","d":0.5,"v":0.78},{"p":"279 DAP","c":"0.65-0.90 mm","d":0.5,"v":0.62},{"p":"279 DAP","c":"0.65-0.90 mm","d":0.5,"v":0.48},{"p":"279 DAP","c":"0.65-0.90 mm","d":0.5,"v":0.32},{"p":"279 DAP","c":"0.65-0.90 mm","d":0.5,"v":0.2},
{"p":"279 DAP","c":"0.90-1.60 mm","d":0.5,"v":0.8},{"p":"279 DAP","c":"0.90-1.60 mm","d":0.5,"v":0.65},{"p":"279 DAP","c":"0.90-1.60 mm","d":0.5,"v":0.5},{"p":"279 DAP","c":"0.90-1.60 mm","d":0.5,"v":0.35},{"p":"279 DAP","c":"0.90-1.60 mm","d":0.5,"v":0.2},
{"p":"279 DAP","c":"0.90-1.60 mm","d":0.5,"v":0.72},{"p":"279 DAP","c":"0.90-1.60 mm","d":0.5,"v":0.58},{"p":"279 DAP","c":"0.90-1.60 mm","d":0.5,"v":0.42},{"p":"279 DAP","c":"0.90-1.60 mm","d":0.5,"v":0.28},
{"p":"377 DAP","c":"0.65-0.90 mm","d":0.1,"v":6.05},{"p":"377 DAP","c":"0.65-0.90 mm","d":0.1,"v":5.6},{"p":"377 DAP","c":"0.65-0.90 mm","d":0.1,"v":3.85},{"p":"377 DAP","c":"0.65-0.90 mm","d":0.1,"v":3.1},{"p":"377 DAP","c":"0.65-0.90 mm","d":0.1,"v":2.7},{"p":"377 DAP","c":"0.65-0.90 mm","d":0.1,"v":2.2},{"p":"377 DAP","c":"0.65-0.90 mm","d":0.1,"v":1.8},{"p":"377 DAP","c":"0.65-0.90 mm","d":0.1,"v":1.4},{"p":"377 DAP","c":"0.65-0.90 mm","d":0.1,"v":1.0},{"p":"377 DAP","c":"0.65-0.90 mm","d":0.1,"v":0.6},{"p":"377 DAP","c":"0.65-0.90 mm","d":0.1,"v":0.25},
{"p":"377 DAP","c":"0.65-0.90 mm","d":0.1,"v":3.5},{"p":"377 DAP","c":"0.65-0.90 mm","d":0.1,"v":2.9},{"p":"377 DAP","c":"0.65-0.90 mm","d":0.1,"v":2.45},{"p":"377 DAP","c":"0.65-0.90 mm","d":0.1,"v":2.0},{"p":"377 DAP","c":"0.65-0.90 mm","d":0.1,"v":1.6},{"p":"377 DAP","c":"0.65-0.90 mm","d":0.1,"v":1.2},{"p":"377 DAP","c":"0.65-0.90 mm","d":0.1,"v":0.8},{"p":"377 DAP","c":"0.65-0.90 mm","d":0.1,"v":0.45},
{"p":"377 DAP","c":"< 0.65 mm","d":0.1,"v":5.75},{"p":"377 DAP","c":"< 0.65 mm","d":0.1,"v":3.7},{"p":"377 DAP","c":"< 0.65 mm","d":0.1,"v":2.9},{"p":"377 DAP","c":"< 0.65 mm","d":0.1,"v":2.5},{"p":"377 DAP","c":"< 0.65 mm","d":0.1,"v":2.0},{"p":"377 DAP","c":"< 0.65 mm","d":0.1,"v":1.6},{"p":"377 DAP","c":"< 0.65 mm","d":0.1,"v":1.2},{"p":"377 DAP","c":"< 0.65 mm","d":0.1,"v":0.8},{"p":"377 DAP","c":"< 0.65 mm","d":0.1,"v":0.4},
{"p":"377 DAP","c":"< 0.65 mm","d":0.1,"v":3.3},{"p":"377 DAP","c":"< 0.65 mm","d":0.1,"v":2.7},{"p":"377 DAP","c":"< 0.65 mm","d":0.1,"v":2.25},{"p":"377 DAP","c":"< 0.65 mm","d":0.1,"v":1.8},{"p":"377 DAP","c":"< 0.65 mm","d":0.1,"v":1.4},{"p":"377 DAP","c":"< 0.65 mm","d":0.1,"v":1.0},{"p":"377 DAP","c":"< 0.65 mm","d":0.1,"v":0.6},
{"p":"377 DAP","c":"0.90-1.60 mm","d":0.1,"v":5.5},{"p":"377 DAP","c":"0.90-1.60 mm","d":0.1,"v":3.0},{"p":"377 DAP","c":"0.90-1.60 mm","d":0.1,"v":2.6},{"p":"377 DAP","c":"0.90-1.60 mm","d":0.1,"v":2.3},{"p":"377 DAP","c":"0.90-1.60 mm","d":0.1,"v":1.9},{"p":"377 DAP","c":"0.90-1.60 mm","d":0.1,"v":1.5},{"p":"377 DAP","c":"0.90-1.60 mm","d":0.1,"v":1.1},{"p":"377 DAP","c":"0.90-1.60 mm","d":0.1,"v":0.7},{"p":"377 DAP","c":"0.90-1.60 mm","d":0.1,"v":0.3},
{"p":"377 DAP","c":"0.90-1.60 mm","d":0.1,"v":2.8},{"p":"377 DAP","c":"0.90-1.60 mm","d":0.1,"v":2.45},{"p":"377 DAP","c":"0.90-1.60 mm","d":0.1,"v":2.1},{"p":"377 DAP","c":"0.90-1.60 mm","d":0.1,"v":1.7},{"p":"377 DAP","c":"0.90-1.60 mm","d":0.1,"v":1.3},{"p":"377 DAP","c":"0.90-1.60 mm","d":0.1,"v":0.9},{"p":"377 DAP","c":"0.90-1.60 mm","d":0.1,"v":0.5},
{"p":"377 DAP","c":"0.65-0.90 mm","d":0.3,"v":1.85},{"p":"377 DAP","c":"0.65-0.90 mm","d":0.3,"v":1.6},{"p":"377 DAP","c":"0.65-0.90 mm","d":0.3,"v":1.3},{"p":"377 DAP","c":"0.65-0.90 mm","d":0.3,"v":1.0},{"p":"377 DAP","c":"0.65-0.90 mm","d":0.3,"v":0.8},{"p":"377 DAP","c":"0.65-0.90 mm","d":0.3,"v":0.6},{"p":"377 DAP","c":"0.65-0.90 mm","d":0.3,"v":0.4},{"p":"377 DAP","c":"0.65-0.90 mm","d":0.3,"v":0.25},
{"p":"377 DAP","c":"0.65-0.90 mm","d":0.3,"v":1.7},{"p":"377 DAP","c":"0.65-0.90 mm","d":0.3,"v":1.45},{"p":"377 DAP","c":"0.65-0.90 mm","d":0.3,"v":1.15},{"p":"377 DAP","c":"0.65-0.90 mm","d":0.3,"v":0.9},{"p":"377 DAP","c":"0.65-0.90 mm","d":0.3,"v":0.7},{"p":"377 DAP","c":"0.65-0.90 mm","d":0.3,"v":0.5},{"p":"377 DAP","c":"0.65-0.90 mm","d":0.3,"v":0.32},
{"p":"377 DAP","c":"< 0.65 mm","d":0.3,"v":1.5},{"p":"377 DAP","c":"< 0.65 mm","d":0.3,"v":1.2},{"p":"377 DAP","c":"< 0.65 mm","d":0.3,"v":1.0},{"p":"377 DAP","c":"< 0.65 mm","d":0.3,"v":0.85},{"p":"377 DAP","c":"< 0.65 mm","d":0.3,"v":0.7},{"p":"377 DAP","c":"< 0.65 mm","d":0.3,"v":0.55},{"p":"377 DAP","c":"< 0.65 mm","d":0.3,"v":0.4},{"p":"377 DAP","c":"< 0.65 mm","d":0.3,"v":0.2},
{"p":"377 DAP","c":"< 0.65 mm","d":0.3,"v":1.35},{"p":"377 DAP","c":"< 0.65 mm","d":0.3,"v":1.1},{"p":"377 DAP","c":"< 0.65 mm","d":0.3,"v":0.92},{"p":"377 DAP","c":"< 0.65 mm","d":0.3,"v":0.78},{"p":"377 DAP","c":"< 0.65 mm","d":0.3,"v":0.62},{"p":"377 DAP","c":"< 0.65 mm","d":0.3,"v":0.48},{"p":"377 DAP","c":"< 0.65 mm","d":0.3,"v":0.3},
{"p":"377 DAP","c":"0.90-1.60 mm","d":0.3,"v":1.4},{"p":"377 DAP","c":"0.90-1.60 mm","d":0.3,"v":1.1},{"p":"377 DAP","c":"0.90-1.60 mm","d":0.3,"v":0.9},{"p":"377 DAP","c":"0.90-1.60 mm","d":0.3,"v":0.75},{"p":"377 DAP","c":"0.90-1.60 mm","d":0.3,"v":0.6},{"p":"377 DAP","c":"0.90-1.60 mm","d":0.3,"v":0.45},{"p":"377 DAP","c":"0.90-1.60 mm","d":0.3,"v":0.3},
{"p":"377 DAP","c":"0.90-1.60 mm","d":0.3,"v":1.25},{"p":"377 DAP","c":"0.90-1.60 mm","d":0.3,"v":1.0},{"p":"377 DAP","c":"0.90-1.60 mm","d":0.3,"v":0.82},{"p":"377 DAP","c":"0.90-1.60 mm","d":0.3,"v":0.68},{"p":"377 DAP","c":"0.90-1.60 mm","d":0.3,"v":0.52},{"p":"377 DAP","c":"0.90-1.60 mm","d":0.3,"v":0.38},{"p":"377 DAP","c":"0.90-1.60 mm","d":0.3,"v":0.25},
{"p":"377 DAP","c":"< 0.65 mm","d":0.5,"v":3.08},{"p":"377 DAP","c":"< 0.65 mm","d":0.5,"v":1.25},{"p":"377 DAP","c":"< 0.65 mm","d":0.5,"v":1.0},{"p":"377 DAP","c":"< 0.65 mm","d":0.5,"v":0.8},{"p":"377 DAP","c":"< 0.65 mm","d":0.5,"v":0.65},{"p":"377 DAP","c":"< 0.65 mm","d":0.5,"v":0.5},{"p":"377 DAP","c":"< 0.65 mm","d":0.5,"v":0.35},{"p":"377 DAP","c":"< 0.65 mm","d":0.5,"v":0.2},
{"p":"377 DAP","c":"< 0.65 mm","d":0.5,"v":1.15},{"p":"377 DAP","c":"< 0.65 mm","d":0.5,"v":0.9},{"p":"377 DAP","c":"< 0.65 mm","d":0.5,"v":0.72},{"p":"377 DAP","c":"< 0.65 mm","d":0.5,"v":0.58},{"p":"377 DAP","c":"< 0.65 mm","d":0.5,"v":0.42},{"p":"377 DAP","c":"< 0.65 mm","d":0.5,"v":0.28},
{"p":"377 DAP","c":"0.65-0.90 mm","d":0.5,"v":1.5},{"p":"377 DAP","c":"0.65-0.90 mm","d":0.5,"v":1.2},{"p":"377 DAP","c":"0.65-0.90 mm","d":0.5,"v":0.95},{"p":"377 DAP","c":"0.65-0.90 mm","d":0.5,"v":0.75},{"p":"377 DAP","c":"0.65-0.90 mm","d":0.5,"v":0.6},{"p":"377 DAP","c":"0.65-0.90 mm","d":0.5,"v":0.45},{"p":"377 DAP","c":"0.65-0.90 mm","d":0.5,"v":0.3},
{"p":"377 DAP","c":"0.65-0.90 mm","d":0.5,"v":1.35},{"p":"377 DAP","c":"0.65-0.90 mm","d":0.5,"v":1.05},{"p":"377 DAP","c":"0.65-0.90 mm","d":0.5,"v":0.85},{"p":"377 DAP","c":"0.65-0.90 mm","d":0.5,"v":0.68},{"p":"377 DAP","c":"0.65-0.90 mm","d":0.5,"v":0.52},{"p":"377 DAP","c":"0.65-0.90 mm","d":0.5,"v":0.38},{"p":"377 DAP","c":"0.65-0.90 mm","d":0.5,"v":0.25},
{"p":"377 DAP","c":"0.90-1.60 mm","d":0.5,"v":1.3},{"p":"377 DAP","c":"0.90-1.60 mm","d":0.5,"v":1.0},{"p":"377 DAP","c":"0.90-1.60 mm","d":0.5,"v":0.8},{"p":"377 DAP","c":"0.90-1.60 mm","d":0.5,"v":0.65},{"p":"377 DAP","c":"0.90-1.60 mm","d":0.5,"v":0.5},{"p":"377 DAP","c":"0.90-1.60 mm","d":0.5,"v":0.35},{"p":"377 DAP","c":"0.90-1.60 mm","d":0.5,"v":0.22},
{"p":"377 DAP","c":"0.90-1.60 mm","d":0.5,"v":1.15},{"p":"377 DAP","c":"0.90-1.60 mm","d":0.5,"v":0.9},{"p":"377 DAP","c":"0.90-1.60 mm","d":0.5,"v":0.72},{"p":"377 DAP","c":"0.90-1.60 mm","d":0.5,"v":0.58},{"p":"377 DAP","c":"0.90-1.60 mm","d":0.5,"v":0.42},{"p":"377 DAP","c":"0.90-1.60 mm","d":0.5,"v":0.28},
{"p":"428 DAP","c":"0.65-0.90 mm","d":0.1,"v":6.8},{"p":"428 DAP","c":"0.65-0.90 mm","d":0.1,"v":6.0},{"p":"428 DAP","c":"0.65-0.90 mm","d":0.1,"v":4.3},{"p":"428 DAP","c":"0.65-0.90 mm","d":0.1,"v":2.7},{"p":"428 DAP","c":"0.65-0.90 mm","d":0.1,"v":2.4},{"p":"428 DAP","c":"0.65-0.90 mm","d":0.1,"v":2.1},{"p":"428 DAP","c":"0.65-0.90 mm","d":0.1,"v":1.8},{"p":"428 DAP","c":"0.65-0.90 mm","d":0.1,"v":1.5},{"p":"428 DAP","c":"0.65-0.90 mm","d":0.1,"v":1.2},{"p":"428 DAP","c":"0.65-0.90 mm","d":0.1,"v":0.95},
{"p":"428 DAP","c":"0.65-0.90 mm","d":0.1,"v":2.55},{"p":"428 DAP","c":"0.65-0.90 mm","d":0.1,"v":2.25},{"p":"428 DAP","c":"0.65-0.90 mm","d":0.1,"v":1.95},{"p":"428 DAP","c":"0.65-0.90 mm","d":0.1,"v":1.65},{"p":"428 DAP","c":"0.65-0.90 mm","d":0.1,"v":1.35},{"p":"428 DAP","c":"0.65-0.90 mm","d":0.1,"v":1.05},
{"p":"428 DAP","c":"< 0.65 mm","d":0.1,"v":4.9},{"p":"428 DAP","c":"< 0.65 mm","d":0.1,"v":4.1},{"p":"428 DAP","c":"< 0.65 mm","d":0.1,"v":3.8},{"p":"428 DAP","c":"< 0.65 mm","d":0.1,"v":2.6},{"p":"428 DAP","c":"< 0.65 mm","d":0.1,"v":2.3},{"p":"428 DAP","c":"< 0.65 mm","d":0.1,"v":2.0},{"p":"428 DAP","c":"< 0.65 mm","d":0.1,"v":1.7},{"p":"428 DAP","c":"< 0.65 mm","d":0.1,"v":1.4},{"p":"428 DAP","c":"< 0.65 mm","d":0.1,"v":1.1},{"p":"428 DAP","c":"< 0.65 mm","d":0.1,"v":0.9},
{"p":"428 DAP","c":"< 0.65 mm","d":0.1,"v":4.0},{"p":"428 DAP","c":"< 0.65 mm","d":0.1,"v":3.7},{"p":"428 DAP","c":"< 0.65 mm","d":0.1,"v":2.45},{"p":"428 DAP","c":"< 0.65 mm","d":0.1,"v":2.15},{"p":"428 DAP","c":"< 0.65 mm","d":0.1,"v":1.85},{"p":"428 DAP","c":"< 0.65 mm","d":0.1,"v":1.55},{"p":"428 DAP","c":"< 0.65 mm","d":0.1,"v":1.25},{"p":"428 DAP","c":"< 0.65 mm","d":0.1,"v":1.0},
{"p":"428 DAP","c":"0.90-1.60 mm","d":0.1,"v":4.2},{"p":"428 DAP","c":"0.90-1.60 mm","d":0.1,"v":3.9},{"p":"428 DAP","c":"0.90-1.60 mm","d":0.1,"v":3.6},{"p":"428 DAP","c":"0.90-1.60 mm","d":0.1,"v":3.3},{"p":"428 DAP","c":"0.90-1.60 mm","d":0.1,"v":3.1},{"p":"428 DAP","c":"0.90-1.60 mm","d":0.1,"v":2.5},{"p":"428 DAP","c":"0.90-1.60 mm","d":0.1,"v":2.2},{"p":"428 DAP","c":"0.90-1.60 mm","d":0.1,"v":1.9},{"p":"428 DAP","c":"0.90-1.60 mm","d":0.1,"v":1.6},{"p":"428 DAP","c":"0.90-1.60 mm","d":0.1,"v":1.3},{"p":"428 DAP","c":"0.90-1.60 mm","d":0.1,"v":1.0},
{"p":"428 DAP","c":"0.90-1.60 mm","d":0.1,"v":4.05},{"p":"428 DAP","c":"0.90-1.60 mm","d":0.1,"v":3.75},{"p":"428 DAP","c":"0.90-1.60 mm","d":0.1,"v":3.45},{"p":"428 DAP","c":"0.90-1.60 mm","d":0.1,"v":2.35},{"p":"428 DAP","c":"0.90-1.60 mm","d":0.1,"v":2.05},{"p":"428 DAP","c":"0.90-1.60 mm","d":0.1,"v":1.75},{"p":"428 DAP","c":"0.90-1.60 mm","d":0.1,"v":1.45},{"p":"428 DAP","c":"0.90-1.60 mm","d":0.1,"v":1.15},
{"p":"428 DAP","c":"0.65-0.90 mm","d":0.3,"v":2.2},{"p":"428 DAP","c":"0.65-0.90 mm","d":0.3,"v":1.8},{"p":"428 DAP","c":"0.65-0.90 mm","d":0.3,"v":1.5},{"p":"428 DAP","c":"0.65-0.90 mm","d":0.3,"v":1.2},{"p":"428 DAP","c":"0.65-0.90 mm","d":0.3,"v":1.0},{"p":"428 DAP","c":"0.65-0.90 mm","d":0.3,"v":0.8},{"p":"428 DAP","c":"0.65-0.90 mm","d":0.3,"v":0.6},{"p":"428 DAP","c":"0.65-0.90 mm","d":0.3,"v":0.4},{"p":"428 DAP","c":"0.65-0.90 mm","d":0.3,"v":0.15},
{"p":"428 DAP","c":"0.65-0.90 mm","d":0.3,"v":2.0},{"p":"428 DAP","c":"0.65-0.90 mm","d":0.3,"v":1.65},{"p":"428 DAP","c":"0.65-0.90 mm","d":0.3,"v":1.35},{"p":"428 DAP","c":"0.65-0.90 mm","d":0.3,"v":1.1},{"p":"428 DAP","c":"0.65-0.90 mm","d":0.3,"v":0.9},{"p":"428 DAP","c":"0.65-0.90 mm","d":0.3,"v":0.7},{"p":"428 DAP","c":"0.65-0.90 mm","d":0.3,"v":0.5},{"p":"428 DAP","c":"0.65-0.90 mm","d":0.3,"v":0.28},
{"p":"428 DAP","c":"< 0.65 mm","d":0.3,"v":1.9},{"p":"428 DAP","c":"< 0.65 mm","d":0.3,"v":1.6},{"p":"428 DAP","c":"< 0.65 mm","d":0.3,"v":1.35},{"p":"428 DAP","c":"< 0.65 mm","d":0.3,"v":1.1},{"p":"428 DAP","c":"< 0.65 mm","d":0.3,"v":0.9},{"p":"428 DAP","c":"< 0.65 mm","d":0.3,"v":0.7},{"p":"428 DAP","c":"< 0.65 mm","d":0.3,"v":0.5},{"p":"428 DAP","c":"< 0.65 mm","d":0.3,"v":0.3},
{"p":"428 DAP","c":"< 0.65 mm","d":0.3,"v":1.75},{"p":"428 DAP","c":"< 0.65 mm","d":0.3,"v":1.45},{"p":"428 DAP","c":"< 0.65 mm","d":0.3,"v":1.2},{"p":"428 DAP","c":"< 0.65 mm","d":0.3,"v":1.0},{"p":"428 DAP","c":"< 0.65 mm","d":0.3,"v":0.8},{"p":"428 DAP","c":"< 0.65 mm","d":0.3,"v":0.6},{"p":"428 DAP","c":"< 0.65 mm","d":0.3,"v":0.4},
{"p":"428 DAP","c":"0.90-1.60 mm","d":0.3,"v":1.7},{"p":"428 DAP","c":"0.90-1.60 mm","d":0.3,"v":1.45},{"p":"428 DAP","c":"0.90-1.60 mm","d":0.3,"v":1.2},{"p":"428 DAP","c":"0.90-1.60 mm","d":0.3,"v":1.0},{"p":"428 DAP","c":"0.90-1.60 mm","d":0.3,"v":0.85},{"p":"428 DAP","c":"0.90-1.60 mm","d":0.3,"v":0.65},{"p":"428 DAP","c":"0.90-1.60 mm","d":0.3,"v":0.45},{"p":"428 DAP","c":"0.90-1.60 mm","d":0.3,"v":0.25},
{"p":"428 DAP","c":"0.90-1.60 mm","d":0.3,"v":1.55},{"p":"428 DAP","c":"0.90-1.60 mm","d":0.3,"v":1.3},{"p":"428 DAP","c":"0.90-1.60 mm","d":0.3,"v":1.1},{"p":"428 DAP","c":"0.90-1.60 mm","d":0.3,"v":0.92},{"p":"428 DAP","c":"0.90-1.60 mm","d":0.3,"v":0.75},{"p":"428 DAP","c":"0.90-1.60 mm","d":0.3,"v":0.55},{"p":"428 DAP","c":"0.90-1.60 mm","d":0.3,"v":0.35},
{"p":"428 DAP","c":"0.65-0.90 mm","d":0.5,"v":1.8},{"p":"428 DAP","c":"0.65-0.90 mm","d":0.5,"v":1.5},{"p":"428 DAP","c":"0.65-0.90 mm","d":0.5,"v":1.25},{"p":"428 DAP","c":"0.65-0.90 mm","d":0.5,"v":1.05},{"p":"428 DAP","c":"0.65-0.90 mm","d":0.5,"v":0.85},{"p":"428 DAP","c":"0.65-0.90 mm","d":0.5,"v":0.65},{"p":"428 DAP","c":"0.65-0.90 mm","d":0.5,"v":0.45},
{"p":"428 DAP","c":"0.65-0.90 mm","d":0.5,"v":1.65},{"p":"428 DAP","c":"0.65-0.90 mm","d":0.5,"v":1.38},{"p":"428 DAP","c":"0.65-0.90 mm","d":0.5,"v":1.15},{"p":"428 DAP","c":"0.65-0.90 mm","d":0.5,"v":0.95},{"p":"428 DAP","c":"0.65-0.90 mm","d":0.5,"v":0.75},{"p":"428 DAP","c":"0.65-0.90 mm","d":0.5,"v":0.55},
{"p":"428 DAP","c":"< 0.65 mm","d":0.5,"v":1.4},{"p":"428 DAP","c":"< 0.65 mm","d":0.5,"v":1.2},{"p":"428 DAP","c":"< 0.65 mm","d":0.5,"v":1.0},{"p":"428 DAP","c":"< 0.65 mm","d":0.5,"v":0.85},{"p":"428 DAP","c":"< 0.65 mm","d":0.5,"v":0.7},{"p":"428 DAP","c":"< 0.65 mm","d":0.5,"v":0.55},{"p":"428 DAP","c":"< 0.65 mm","d":0.5,"v":0.35},
{"p":"428 DAP","c":"< 0.65 mm","d":0.5,"v":1.3},{"p":"428 DAP","c":"< 0.65 mm","d":0.5,"v":1.1},{"p":"428 DAP","c":"< 0.65 mm","d":0.5,"v":0.92},{"p":"428 DAP","c":"< 0.65 mm","d":0.5,"v":0.78},{"p":"428 DAP","c":"< 0.65 mm","d":0.5,"v":0.62},{"p":"428 DAP","c":"< 0.65 mm","d":0.5,"v":0.45},
{"p":"428 DAP","c":"0.90-1.60 mm","d":0.5,"v":1.55},{"p":"428 DAP","c":"0.90-1.60 mm","d":0.5,"v":1.3},{"p":"428 DAP","c":"0.90-1.60 mm","d":0.5,"v":1.1},{"p":"428 DAP","c":"0.90-1.60 mm","d":0.5,"v":0.9},{"p":"428 DAP","c":"0.90-1.60 mm","d":0.5,"v":0.75},{"p":"428 DAP","c":"0.90-1.60 mm","d":0.5,"v":0.6},{"p":"428 DAP","c":"0.90-1.60 mm","d":0.5,"v":0.4},
{"p":"428 DAP","c":"0.90-1.60 mm","d":0.5,"v":1.42},{"p":"428 DAP","c":"0.90-1.60 mm","d":0.5,"v":1.2},{"p":"428 DAP","c":"0.90-1.60 mm","d":0.5,"v":1.0},{"p":"428 DAP","c":"0.90-1.60 mm","d":0.5,"v":0.82},{"p":"428 DAP","c":"0.90-1.60 mm","d":0.5,"v":0.68},{"p":"428 DAP","c":"0.90-1.60 mm","d":0.5,"v":0.5}
]
},
"concat": [
{"width":253,"height":31,"view":{"fill":"#ffe5cc","stroke":"black","strokeWidth":1.3},"data":{"values":[{"p":"084 DAP"}]},"mark":{"type":"text","fontSize":27,"font":"Liberation Sans","color":"black","baseline":"middle","dy":1},"encoding":{"text":{"field":"p","type":"nominal"},"x":{"datum":0.3,"type":"quantitative","scale":{"domain":[0.072,0.528],"nice":false,"zero":false},"axis":{"orient":"top","values":[0.1,0.2,0.3,0.4,0.5],"labels":false,"title":null,"tickSize":13}}}},
{"width":253,"height":31,"view":{"fill":"#ffe5cc","stroke":"black","strokeWidth":1.3},"data":{"values":[{"p":"135 DAP"}]},"mark":{"type":"text","fontSize":27,"font":"Liberation Sans","color":"black","baseline":"middle","dy":1},"encoding":{"text":{"field":"p","type":"nominal"},"x":{"datum":0.3,"type":"quantitative","scale":{"domain":[0.072,0.528],"nice":false,"zero":false},"axis":{"orient":"top","values":[0.1,0.2,0.3,0.4,0.5],"format":".1f","labelPadding":6,"title":null,"tickSize":13}}}},
{"width":253,"height":31,"view":{"fill":"#ffe5cc","stroke":"black","strokeWidth":1.3},"data":{"values":[{"p":"182 DAP"}]},"mark":{"type":"text","fontSize":27,"font":"Liberation Sans","color":"black","baseline":"middle","dy":1},"encoding":{"text":{"field":"p","type":"nominal"},"x":{"datum":0.3,"type":"quantitative","scale":{"domain":[0.072,0.528],"nice":false,"zero":false},"axis":{"orient":"top","values":[0.1,0.2,0.3,0.4,0.5],"labels":false,"title":null,"tickSize":13}}}},
{"width":253,"height":31,"view":{"fill":"#ffe5cc","stroke":"black","strokeWidth":1.3},"data":{"values":[{"p":"231 DAP"}]},"mark":{"type":"text","fontSize":27,"font":"Liberation Sans","color":"black","baseline":"middle","dy":1},"encoding":{"text":{"field":"p","type":"nominal"},"x":{"datum":0.3,"type":"quantitative","scale":{"domain":[0.072,0.528],"nice":false,"zero":false},"axis":{"orient":"top","values":[0.1,0.2,0.3,0.4,0.5],"format":".1f","labelPadding":6,"title":null,"tickSize":13}}}},
{"width":253,"height":215,"view":{"fill":"white","stroke":"black","strokeWidth":1.3},
 "resolve": {"scale": {"shape": "independent"}, "legend": {"shape": "independent"}},
 "encoding":{"x":{"field":"d","type":"quantitative","scale":{"domain":[0.072,0.528],"nice":false,"zero":false},"axis":null},"y":{"field":"v","type":"quantitative","scale":{"domain":[-0.378,7.21],"nice":false,"zero":false},"axis":{"orient":"left","values":[0,2,4,6],"format":"d","tickSize":12,"labelPadding":10,"title":"Densidade de comprimento radicular (cm cm⁻³)","titleX":-66,"titleY":211,"titleAngle":270,"titleAlign":"center","titleBaseline":"alphabetic","titleFontSize":26}}},
 "layer":[
  {"data":{"name":"lns"},"transform":[{"filter":"datum.p === '084 DAP'"}],"mark":{"type":"line","color":"#808080","strokeWidth":1.4},"encoding":{"strokeDash":{"field":"c","type":"nominal","scale":{"domain":["0.90-1.60 mm","0.65-0.90 mm","< 0.65 mm"],"range":[[2,4],[7,5],[1,0]]},"legend":null}}},
  {"data":{"name":"pts"},"transform":[{"filter":"datum.p === '084 DAP'"}],"mark":{"type":"point","filled":false,"color":"black","strokeWidth":1.3,"size":196,"opacity":1},"encoding":{"shape":{"field":"c","type":"nominal","scale":{"domain":["< 0.65 mm","0.65-0.90 mm","0.90-1.60 mm"],"range":["M-0.8,-0.8H0.8V0.8H-0.8Z","M0,-0.9L1,0.83H-1Z","M0.65,0A0.65,0.65 0 1,1 -0.65,0A0.65,0.65 0 1,1 0.65,0Z"]},"legend":null}}},
  {"data":{"name":"pts"},"transform":[{"filter":"datum.p === 'legend only'"}],"mark":{"type":"point","filled":false,"color":"black","strokeWidth":1.3,"size":196,"opacity":1},"encoding":{"shape":{"field":"c","type":"nominal","scale":{"domain":["< 0.65 mm","0.65-0.90 mm","0.90-1.60 mm"],"range":["M-5.36,0H-0.8M0.8,0H5.36M-0.8,-0.8H0.8V0.8H-0.8Z","M-5.3,0H-3.8M-3.3,0H-1.8M1.8,0H3.3M3.8,0H5.3M0,-0.9L1,0.83H-1Z","M-5.36,0H-5.11M-4.71,0H-4.46M-4.06,0H-3.81M-3.41,0H-3.16M-2.76,0H-2.51M-2.11,0H-1.86M-1.46,0H-1.21M1.21,0H1.46M1.86,0H2.11M2.51,0H2.76M3.16,0H3.41M3.81,0H4.06M4.46,0H4.71M5.11,0H5.36M0.65,0A0.65,0.65 0 1,1 -0.65,0A0.65,0.65 0 1,1 0.65,0Z"]},"legend":{"title":null,"orient":"none","legendX":88,"legendY":-121,"direction":"horizontal","labelFont":"Liberation Sans","labelFontSize":25,"labelColor":"black","labelOffset":52,"columnPadding":74,"symbolSize":196,"symbolStrokeWidth":1.3,"symbolStrokeColor":"black"}}}}
 ]},
{"width":253,"height":215,"view":{"fill":"white","stroke":"black","strokeWidth":1.3},
 "encoding":{"x":{"field":"d","type":"quantitative","scale":{"domain":[0.072,0.528],"nice":false,"zero":false},"axis":null},"y":{"field":"v","type":"quantitative","scale":{"domain":[-0.378,7.21],"nice":false,"zero":false},"axis":null}},
 "layer":[
  {"data":{"name":"lns"},"transform":[{"filter":"datum.p === '135 DAP'"}],"mark":{"type":"line","color":"#808080","strokeWidth":1.4},"encoding":{"strokeDash":{"field":"c","type":"nominal","scale":{"domain":["0.90-1.60 mm","0.65-0.90 mm","< 0.65 mm"],"range":[[2,4],[7,5],[1,0]]},"legend":null}}},
  {"data":{"name":"pts"},"transform":[{"filter":"datum.p === '135 DAP'"}],"mark":{"type":"point","filled":false,"color":"black","strokeWidth":1.3,"size":196,"opacity":1},"encoding":{"shape":{"field":"c","type":"nominal","scale":{"domain":["< 0.65 mm","0.65-0.90 mm","0.90-1.60 mm"],"range":["M-0.8,-0.8H0.8V0.8H-0.8Z","M0,-0.9L1,0.83H-1Z","M0.65,0A0.65,0.65 0 1,1 -0.65,0A0.65,0.65 0 1,1 0.65,0Z"]},"legend":null}}}
 ]},
{"width":253,"height":215,"view":{"fill":"white","stroke":"black","strokeWidth":1.3},
 "encoding":{"x":{"field":"d","type":"quantitative","scale":{"domain":[0.072,0.528],"nice":false,"zero":false},"axis":null},"y":{"field":"v","type":"quantitative","scale":{"domain":[-0.378,7.21],"nice":false,"zero":false},"axis":null}},
 "layer":[
  {"data":{"name":"lns"},"transform":[{"filter":"datum.p === '182 DAP'"}],"mark":{"type":"line","color":"#808080","strokeWidth":1.4},"encoding":{"strokeDash":{"field":"c","type":"nominal","scale":{"domain":["0.90-1.60 mm","0.65-0.90 mm","< 0.65 mm"],"range":[[2,4],[7,5],[1,0]]},"legend":null}}},
  {"data":{"name":"pts"},"transform":[{"filter":"datum.p === '182 DAP'"}],"mark":{"type":"point","filled":false,"color":"black","strokeWidth":1.3,"size":196,"opacity":1},"encoding":{"shape":{"field":"c","type":"nominal","scale":{"domain":["< 0.65 mm","0.65-0.90 mm","0.90-1.60 mm"],"range":["M-0.8,-0.8H0.8V0.8H-0.8Z","M0,-0.9L1,0.83H-1Z","M0.65,0A0.65,0.65 0 1,1 -0.65,0A0.65,0.65 0 1,1 0.65,0Z"]},"legend":null}}}
 ]},
{"width":253,"height":215,"view":{"fill":"white","stroke":"black","strokeWidth":1.3},
 "encoding":{"x":{"field":"d","type":"quantitative","scale":{"domain":[0.072,0.528],"nice":false,"zero":false},"axis":null},"y":{"field":"v","type":"quantitative","scale":{"domain":[-0.378,7.21],"nice":false,"zero":false},"axis":null}},
 "layer":[
  {"data":{"name":"lns"},"transform":[{"filter":"datum.p === '231 DAP'"}],"mark":{"type":"line","color":"#808080","strokeWidth":1.4},"encoding":{"strokeDash":{"field":"c","type":"nominal","scale":{"domain":["0.90-1.60 mm","0.65-0.90 mm","< 0.65 mm"],"range":[[2,4],[7,5],[1,0]]},"legend":null}}},
  {"data":{"name":"pts"},"transform":[{"filter":"datum.p === '231 DAP'"}],"mark":{"type":"point","filled":false,"color":"black","strokeWidth":1.3,"size":196,"opacity":1},"encoding":{"shape":{"field":"c","type":"nominal","scale":{"domain":["< 0.65 mm","0.65-0.90 mm","0.90-1.60 mm"],"range":["M-0.8,-0.8H0.8V0.8H-0.8Z","M0,-0.9L1,0.83H-1Z","M0.65,0A0.65,0.65 0 1,1 -0.65,0A0.65,0.65 0 1,1 0.65,0Z"]},"legend":null}}}
 ]},
{"width":253,"height":31,"view":{"fill":"#ffe5cc","stroke":"black","strokeWidth":1.3},"data":{"values":[{"p":"279 DAP"}]},"mark":{"type":"text","fontSize":27,"font":"Liberation Sans","color":"black","baseline":"middle","dy":1},"encoding":{"text":{"field":"p","type":"nominal"}}},
{"width":253,"height":31,"view":{"fill":"#ffe5cc","stroke":"black","strokeWidth":1.3},"data":{"values":[{"p":"377 DAP"}]},"mark":{"type":"text","fontSize":27,"font":"Liberation Sans","color":"black","baseline":"middle","dy":1},"encoding":{"text":{"field":"p","type":"nominal"}}},
{"width":253,"height":31,"view":{"fill":"#ffe5cc","stroke":"black","strokeWidth":1.3},"data":{"values":[{"p":"428 DAP"}]},"mark":{"type":"text","fontSize":27,"font":"Liberation Sans","color":"black","baseline":"middle","dy":1},"encoding":{"text":{"field":"p","type":"nominal"}}},
{"width":253,"height":31,"view":{"fill":null,"stroke":null},"data":{"values":[]},"mark":"text","encoding":{}},
{"width":253,"height":215,"view":{"fill":"white","stroke":"black","strokeWidth":1.3},
 "encoding":{"x":{"field":"d","type":"quantitative","scale":{"domain":[0.072,0.528],"nice":false,"zero":false},"axis":{"orient":"bottom","values":[0.1,0.2,0.3,0.4,0.5],"format":".1f","tickSize":11,"labelPadding":15,"title":null}},"y":{"field":"v","type":"quantitative","scale":{"domain":[-0.378,7.21],"nice":false,"zero":false},"axis":{"orient":"left","values":[0,2,4,6],"labels":false,"tickSize":12,"title":null}}},
 "layer":[
  {"data":{"name":"lns"},"transform":[{"filter":"datum.p === '279 DAP'"}],"mark":{"type":"line","color":"#808080","strokeWidth":1.4},"encoding":{"strokeDash":{"field":"c","type":"nominal","scale":{"domain":["0.90-1.60 mm","0.65-0.90 mm","< 0.65 mm"],"range":[[2,4],[7,5],[1,0]]},"legend":null}}},
  {"data":{"name":"pts"},"transform":[{"filter":"datum.p === '279 DAP'"}],"mark":{"type":"point","filled":false,"color":"black","strokeWidth":1.3,"size":196,"opacity":1},"encoding":{"shape":{"field":"c","type":"nominal","scale":{"domain":["< 0.65 mm","0.65-0.90 mm","0.90-1.60 mm"],"range":["M-0.8,-0.8H0.8V0.8H-0.8Z","M0,-0.9L1,0.83H-1Z","M0.65,0A0.65,0.65 0 1,1 -0.65,0A0.65,0.65 0 1,1 0.65,0Z"]},"legend":null}}}
 ]},
{"width":253,"height":215,"view":{"fill":"white","stroke":"black","strokeWidth":1.3},
 "encoding":{"x":{"field":"d","type":"quantitative","scale":{"domain":[0.072,0.528],"nice":false,"zero":false},"axis":{"orient":"bottom","values":[0.1,0.2,0.3,0.4,0.5],"labels":false,"tickSize":11,"title":null}},"y":{"field":"v","type":"quantitative","scale":{"domain":[-0.378,7.21],"nice":false,"zero":false},"axis":null}},
 "layer":[
  {"data":{"name":"lns"},"transform":[{"filter":"datum.p === '377 DAP'"}],"mark":{"type":"line","color":"#808080","strokeWidth":1.4},"encoding":{"strokeDash":{"field":"c","type":"nominal","scale":{"domain":["0.90-1.60 mm","0.65-0.90 mm","< 0.65 mm"],"range":[[2,4],[7,5],[1,0]]},"legend":null}}},
  {"data":{"name":"pts"},"transform":[{"filter":"datum.p === '377 DAP'"}],"mark":{"type":"point","filled":false,"color":"black","strokeWidth":1.3,"size":196,"opacity":1},"encoding":{"shape":{"field":"c","type":"nominal","scale":{"domain":["< 0.65 mm","0.65-0.90 mm","0.90-1.60 mm"],"range":["M-0.8,-0.8H0.8V0.8H-0.8Z","M0,-0.9L1,0.83H-1Z","M0.65,0A0.65,0.65 0 1,1 -0.65,0A0.65,0.65 0 1,1 0.65,0Z"]},"legend":null}}}
 ]},
{"width":253,"height":215,"view":{"fill":"white","stroke":"black","strokeWidth":1.3},
 "encoding":{"x":{"field":"d","type":"quantitative","scale":{"domain":[0.072,0.528],"nice":false,"zero":false},"axis":{"orient":"bottom","values":[0.1,0.2,0.3,0.4,0.5],"format":".1f","tickSize":11,"labelPadding":15,"title":"Camada (m)","titleX":1,"titleY":86,"titleAlign":"center","titleBaseline":"alphabetic","titleFontSize":26}},"y":{"field":"v","type":"quantitative","scale":{"domain":[-0.378,7.21],"nice":false,"zero":false},"axis":{"orient":"right","values":[0,2,4,6],"format":"d","tickSize":13,"labelPadding":10,"title":null}}},
 "layer":[
  {"data":{"name":"lns"},"transform":[{"filter":"datum.p === '428 DAP'"}],"mark":{"type":"line","color":"#808080","strokeWidth":1.4},"encoding":{"strokeDash":{"field":"c","type":"nominal","scale":{"domain":["0.90-1.60 mm","0.65-0.90 mm","< 0.65 mm"],"range":[[2,4],[7,5],[1,0]]},"legend":null}}},
  {"data":{"name":"pts"},"transform":[{"filter":"datum.p === '428 DAP'"}],"mark":{"type":"point","filled":false,"color":"black","strokeWidth":1.3,"size":196,"opacity":1},"encoding":{"shape":{"field":"c","type":"nominal","scale":{"domain":["< 0.65 mm","0.65-0.90 mm","0.90-1.60 mm"],"range":["M-0.8,-0.8H0.8V0.8H-0.8Z","M0,-0.9L1,0.83H-1Z","M0.65,0A0.65,0.65 0 1,1 -0.65,0A0.65,0.65 0 1,1 0.65,0Z"]},"legend":null}}}
 ]}
],
"config": {
 "font": "Liberation Sans",
 "background": "white",
 "view": {"stroke": "black", "strokeWidth": 1.3},
 "axis": {"domain": false, "grid": false, "labelFont": "Liberation Sans", "labelFontSize": 20, "labelColor": "black", "tickColor": "black", "tickWidth": 1.3, "labelFlush": false, "labelOverlap": false, "titleFont": "Liberation Sans", "titleFontSize": 25, "titleFontWeight": "normal", "titleColor": "black", "titlePadding": 0}
}
}
